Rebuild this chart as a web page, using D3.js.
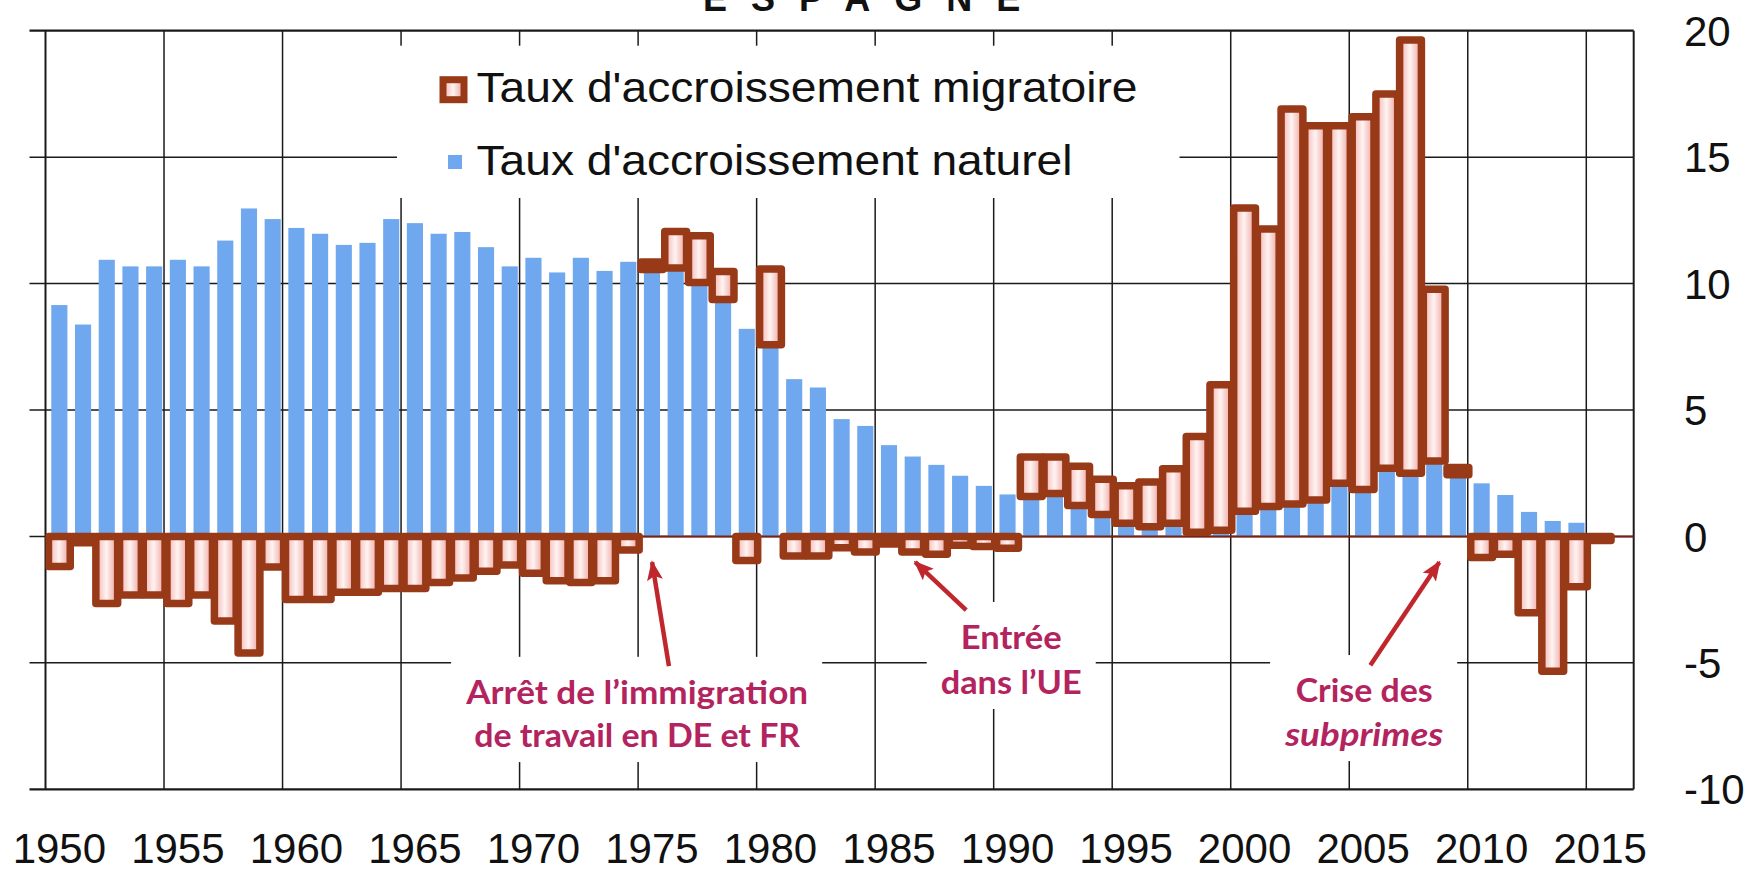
<!DOCTYPE html>
<html>
<head>
<meta charset="utf-8">
<script src="https://cdn.jsdelivr.net/npm/d3@7"></script>
<style>
  html, body { margin: 0; padding: 0; background: #ffffff; }
  svg { display: block; }
</style>
</head>
<body>
<svg id="chart" width="1762" height="872"></svg>
<script>
// Espagne : taux d'accroissement naturel et migratoire (pour 1000 habitants), 1950-2016
const years = [
  1950, 1951, 1952, 1953, 1954, 1955, 1956, 1957, 1958, 1959,
  1960, 1961, 1962, 1963, 1964, 1965, 1966, 1967, 1968, 1969,
  1970, 1971, 1972, 1973, 1974, 1975, 1976, 1977, 1978, 1979,
  1980, 1981, 1982, 1983, 1984, 1985, 1986, 1987, 1988, 1989,
  1990, 1991, 1992, 1993, 1994, 1995, 1996, 1997, 1998, 1999,
  2000, 2001, 2002, 2003, 2004, 2005, 2006, 2007, 2008, 2009,
  2010, 2011, 2012, 2013, 2014, 2015, 2016
];

// Taux d'accroissement naturel
const natural = [
  9.15, 8.38, 10.94, 10.68, 10.68, 10.94, 10.68, 11.70, 12.97, 12.55,
  12.20, 11.97, 11.53, 11.61, 12.55, 12.39, 11.97, 12.04, 11.44, 10.68,
  11.02, 10.44, 11.02, 10.50, 10.86, 10.56, 10.62, 10.04, 9.37, 8.21,
  7.58, 6.22, 5.89, 4.64, 4.37, 3.61, 3.16, 2.83, 2.40, 2.00,
  1.66, 1.58, 1.70, 1.22, 0.87, 0.52, 0.38, 0.52, 0.17, 0.24,
  1.00, 1.18, 1.28, 1.44, 2.10, 1.86, 2.70, 2.50, 2.98, 2.44,
  2.10, 1.64, 0.97, 0.61, 0.54, 0.02, null
];

// Taux d'accroissement migratoire
const migration = [
  -1.19, -0.25, -2.65, -2.32, -2.32, -2.65, -2.32, -3.34, -4.61, -1.21,
  -2.49, -2.49, -2.21, -2.21, -2.06, -2.06, -1.82, -1.64, -1.38, -1.13,
  -1.46, -1.75, -1.82, -1.75, -0.54, 0.29, 1.44, 1.85, 1.11, -0.95,
  3.00, -0.77, -0.77, -0.45, -0.62, -0.30, -0.62, -0.70, -0.35, -0.40,
  -0.47, 1.56, 1.44, 1.56, 1.39, 1.48, 1.77, 2.16, 3.78, 5.76,
  11.99, 10.98, 15.62, 14.80, 14.14, 14.74, 14.80, 17.13, 6.80, 0.29,
  -0.83, -0.70, -3.02, -5.33, -1.99, -0.16, null
];

const yTicks = [20, 15, 10, 5, 0, -5, -10];
const xTickLabels = [1950, 1955, 1960, 1965, 1970, 1975, 1980, 1985, 1990, 1995, 2000, 2005, 2010, 2015];
const legendLabels = ["Taux d'accroissement migratoire", "Taux d'accroissement naturel"];
const titleText = "ESPAGNE";

// Annotations: text lines centred on a (year, value) anchor, arrow from tail to tip in data units
const notes = [
  { lines: ["Arrêt de l’immigration", "de travail en DE et FR"], italic: [false, false],
    year: 1974.96, values: [-6.62, -8.33], tail: [1976.30, -5.13], tip: [1975.59, -1.02] },
  { lines: ["Entrée", "dans l’UE"], italic: [false, false],
    year: 1990.74, values: [-4.45, -6.23], tail: [1988.84, -2.91], tip: [1986.69, -1.02] },
  { lines: ["Crise des", "subprimes"], italic: [false, true],
    year: 2005.63, values: [-6.55, -8.29], tail: [2005.89, -5.09], tip: [2008.80, -1.02] }
];
// set widths of the annotation lines (px)
const noteWidths = [[342, 326], [101, 141], [137, 158]];

// ---- layout ----
const plot = { left: 45.5, right: 1633.7, top: 30.7, bottom: 789.3 };
const barShift = 2;

const svg = d3.select("#chart");
const defs = svg.append("defs");

const grad = defs.append("linearGradient")
  .attr("id", "migFill").attr("x1", 0).attr("x2", 1).attr("y1", 0).attr("y2", 0);
grad.append("stop").attr("offset", "0%").attr("stop-color", "#f2aeab");
grad.append("stop").attr("offset", "48%").attr("stop-color", "#fff4f2");
grad.append("stop").attr("offset", "100%").attr("stop-color", "#ec9c98");

defs.append("clipPath").attr("id", "plotClip")
  .append("rect")
  .attr("x", plot.left).attr("y", plot.top)
  .attr("width", plot.right - plot.left).attr("height", plot.bottom - plot.top);

defs.append("marker")
  .attr("id", "arrowHead")
  .attr("viewBox", "0 0 20 16")
  .attr("refX", 18).attr("refY", 8)
  .attr("markerWidth", 20).attr("markerHeight", 16)
  .attr("markerUnits", "userSpaceOnUse")
  .attr("orient", "auto")
  .append("path")
  .attr("d", "M0,0 L20,8 L0,16 L4,8 Z")
  .attr("fill", "#c0272d");

const x = d3.scaleBand()
  .domain(years)
  .range([plot.left + barShift, plot.right + barShift])
  .padding(0);
const band = x.bandwidth();
const xYear = d3.scaleLinear()
  .domain([years[0], years[years.length - 1] + 1])
  .range([plot.left, plot.right]);
const y = d3.scaleLinear().domain([-10, 20]).range([plot.bottom, plot.top]);

const ink = "#1a1a1a";

// ---- title (partly above the top of the page) ----
svg.append("text")
  .attr("x", 703).attr("y", 11)
  .attr("font-family", "Liberation Sans, Arial, sans-serif")
  .attr("font-weight", "bold")
  .attr("font-size", 36)
  .attr("letter-spacing", 24)
  .attr("fill", "#111")
  .text(titleText);

// ---- grid ----
const grid = svg.append("g");
yTicks.forEach(v => {
  grid.append("line")
    .attr("x1", plot.left - 16).attr("x2", plot.right)
    .attr("y1", y(v)).attr("y2", y(v))
    .attr("stroke", ink)
    .attr("stroke-width", (v === 20 || v === -10) ? 2.2 : 1.5);
});
const vLines = years.filter(yr => (yr - years[0]) % 5 === 0).map(yr => xYear(yr));
vLines.push(plot.right);
vLines.forEach((vx, i) => {
  grid.append("line")
    .attr("x1", vx).attr("x2", vx)
    .attr("y1", plot.top).attr("y2", plot.bottom)
    .attr("stroke", ink)
    .attr("stroke-width", (i === 0 || i === vLines.length - 1) ? 2 : 1.5);
});

// ---- white label boxes over the grid ----
const boxLayer = svg.append("g");

// ---- bars ----
const rows = years.map((yr, i) => ({ year: yr, nat: natural[i], mig: migration[i] }));

svg.append("g").attr("class", "natural")
  .selectAll("rect")
  .data(rows.filter(d => d.nat !== null))
  .join("rect")
  .attr("x", d => x(d.year) + band * 0.16)
  .attr("width", band * 0.68)
  .attr("y", d => y(Math.max(0, d.nat)))
  .attr("height", d => Math.abs(y(d.nat) - y(0)))
  .attr("fill", "#6fa8ee");

// axis line at zero
svg.append("line")
  .attr("x1", plot.left).attr("x2", plot.right)
  .attr("y1", y(0)).attr("y2", y(0))
  .attr("stroke", "#7a1f14").attr("stroke-width", 2);

// migration stacked on natural when positive, below zero when negative
svg.append("g").attr("class", "migration")
  .attr("clip-path", "url(#plotClip)")
  .selectAll("rect")
  .data(rows.filter(d => d.mig !== null))
  .join("rect")
  .attr("x", d => x(d.year) + band * 0.04)
  .attr("width", band * 0.92)
  .attr("y", d => d.mig >= 0 ? y(d.nat + d.mig) : y(0))
  .attr("height", d => d.mig >= 0 ? y(d.nat) - y(d.nat + d.mig) : y(d.mig) - y(0))
  .attr("fill", "url(#migFill)")
  .attr("stroke", "#983a17")
  .attr("stroke-width", 7.5)
  .attr("stroke-linejoin", "round");

// ---- right-hand value axis ----
svg.append("g")
  .selectAll("text")
  .data(yTicks)
  .join("text")
  .attr("x", 1684)
  .attr("y", d => y(d))
  .attr("dy", "0.36em")
  .attr("font-family", "Liberation Sans, Arial, sans-serif")
  .attr("font-size", 42)
  .attr("fill", "#111")
  .text(d => d);

// ---- year labels ----
svg.append("g")
  .selectAll("text")
  .data(xTickLabels)
  .join("text")
  .attr("x", d => x(d) + band / 2)
  .attr("y", 863)
  .attr("text-anchor", "middle")
  .attr("font-family", "Liberation Sans, Arial, sans-serif")
  .attr("font-size", 42)
  .attr("fill", "#111")
  .text(d => d);

// ---- legend ----
const legend = svg.append("g");
const legendX = 476.5;
const legendBase = [101.7, 175];
const legendWidths = [661, 596];
legendLabels.forEach((lab, i) => {
  legend.append("text")
    .attr("x", legendX).attr("y", legendBase[i])
    .attr("font-family", "Liberation Sans, Arial, sans-serif")
    .attr("font-size", 42)
    .attr("textLength", legendWidths[i])
    .attr("lengthAdjust", "spacingAndGlyphs")
    .attr("fill", "#111")
    .text(lab);
});
legend.append("rect")
  .attr("x", legendX - 33.5).attr("y", legendBase[0] - 22)
  .attr("width", 21).attr("height", 20)
  .attr("fill", "url(#migFill)")
  .attr("stroke", "#983a17").attr("stroke-width", 7);
legend.append("rect")
  .attr("x", legendX - 28.5).attr("y", legendBase[1] - 20)
  .attr("width", 14).attr("height", 14)
  .attr("fill", "#6fa8ee");

const lb = legend.node().getBBox();
boxLayer.append("rect")
  .attr("x", lb.x - 46).attr("y", lb.y - 18)
  .attr("width", lb.width + 88).attr("height", lb.height + 32)
  .attr("fill", "#ffffff");

// ---- annotations ----
const noteLayer = svg.append("g");
notes.forEach((n, k) => {
  const g = noteLayer.append("g");
  n.lines.forEach((line, i) => {
    const w = noteWidths[k][i];
    g.append("text")
      .attr("x", xYear(n.year) - w / 2)
      .attr("y", y(n.values[i]))
      .attr("font-family", "Lato, 'Open Sans', sans-serif")
      .attr("font-weight", "bold")
      .attr("font-style", n.italic[i] ? "italic" : "normal")
      .attr("font-size", 33)
      .attr("textLength", w)
      .attr("lengthAdjust", "spacingAndGlyphs")
      .attr("fill", "#b3245e")
      .text(line);
  });
  const b = g.node().getBBox();
  boxLayer.append("rect")
    .attr("x", b.x - 14).attr("y", b.y - 14)
    .attr("width", b.width + 28).attr("height", b.height + 22)
    .attr("fill", "#ffffff");
  noteLayer.append("line")
    .attr("x1", xYear(n.tail[0])).attr("y1", y(n.tail[1]))
    .attr("x2", xYear(n.tip[0])).attr("y2", y(n.tip[1]))
    .attr("stroke", "#c0272d").attr("stroke-width", 4.5)
    .attr("marker-end", "url(#arrowHead)");
});
</script>
</body>
</html>
